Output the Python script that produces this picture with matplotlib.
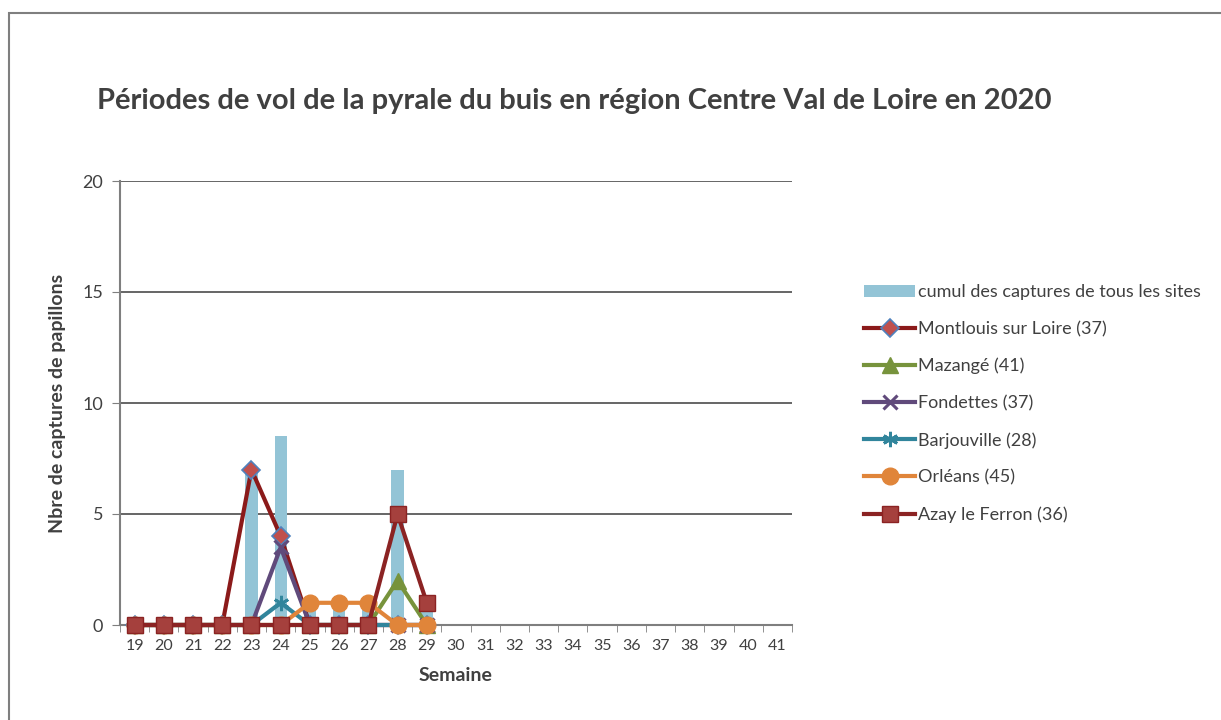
import matplotlib
matplotlib.use("Agg")
import matplotlib.pyplot as plt
import numpy as np
from matplotlib.patches import Rectangle

plt.rcParams['font.family'] = ['Lato', 'DejaVu Sans']

weeks = [str(w) for w in range(19, 42)]
data_weeks = list(range(19, 30))
cumul = [0, 0, 0, 0, 7, 8.5, 1, 1, 1, 7, 1]
montlouis = [0, 0, 0, 0, 7, 4, 0, 0, 0, 0, 0]
mazange = [0, 0, 0, 0, 0, 0, 0, 0, 0, 2, 0]
fondettes = [0, 0, 0, 0, 0, 3.5, 0, 0, 0, 0, 0]
barjouville = [0, 0, 0, 0, 0, 1, 0, 0, 0, 0, 0]
orleans = [0, 0, 0, 0, 0, 0, 1, 1, 1, 0, 0]
azay = [0, 0, 0, 0, 0, 0, 0, 0, 0, 5, 1]

fig = plt.figure(figsize=(12.21, 7.2), dpi=100)
fig.patches.append(Rectangle((9/1221, -0.1), 1.2, 1 - 13/720 + 0.1, transform=fig.transFigure,
                             fill=False, edgecolor='#7f7f7f', linewidth=1.5))
ax = fig.add_axes([120/1221, 1 - 625/720, (792-120)/1221, (625-181)/720])

x = np.arange(len(data_weeks))
ax.bar(x, cumul, width=0.42, color='#93C4D6', label='cumul des captures de tous les sites', zorder=2)

lw = 3.0
kw = dict(lw=lw, zorder=3, clip_on=False)
ax.plot(x, montlouis, color='#8B1A1A', marker='D', ms=9, mfc='#C0504D', mec='#4F81BD', mew=1.2,
        label='Montlouis sur Loire (37)', **kw)
ax.plot(x, mazange, color='#77933C', marker='^', ms=11, mfc='#77933C', mec='#77933C',
        label='Mazangé (41)', **kw)
ax.plot(x, fondettes, color='#604A7B', marker='x', ms=10, mew=2.2, mec='#604A7B',
        label='Fondettes (37)', **kw)
ax.plot(x, barjouville, color='#31859C', marker=(6, 2, 0), ms=11, mew=2, mec='#31859C',
        label='Barjouville (28)', **kw)
ax.plot(x, orleans, color='#E0853A', marker='o', ms=12, mfc='#E0853A', mec='#E0853A',
        label='Orléans (45)', **kw)
ax.plot(x, azay, color='#8B2323', marker='s', ms=12, mfc='#A5403D', mec='#8B2323', mew=1,
        label='Azay le Ferron (36)', **kw)

ax.set_xlim(-0.5, len(weeks) - 0.5)
ax.set_ylim(0, 20)
ax.set_yticks([0, 5, 10, 15, 20])
ax.set_xticks(np.arange(len(weeks)))
ax.set_xticklabels(weeks)
ax.set_xticks(np.arange(len(weeks) + 1) - 0.5, minor=True)
ax.tick_params(axis='x', which='major', length=0, labelsize=11.5, colors='#404040', pad=10)
ax.tick_params(axis='x', which='minor', length=5, direction='out', color='#7f7f7f')
ax.tick_params(axis='y', length=6, direction='out', labelsize=13, colors='#7f7f7f', labelcolor='#404040', pad=6)
ax.grid(axis='y', color='#595959', lw=1.3, zorder=0)
ax.set_axisbelow(True)
for s in ['top', 'right']:
    ax.spines[s].set_visible(False)
for s in ['left', 'bottom']:
    ax.spines[s].set_color('#7f7f7f')
    ax.spines[s].set_linewidth(1.5)

ax.set_ylabel('Nbre de captures de papillons', fontsize=14, fontweight='bold', color='#404040', labelpad=12)
ax.set_xlabel('Semaine', fontsize=14, fontweight='bold', color='#404040', labelpad=10)

fig.text(97/1221, 1 - 101/720, 'Périodes de vol de la pyrale du buis en région Centre Val de Loire en 2020',
         fontsize=21, fontweight='bold', color='#404040', va='center', ha='left')

handles, labels = ax.get_legend_handles_labels()
order = [6, 0, 1, 2, 3, 4, 5]
leg = fig.legend([handles[i] for i in order], [labels[i] for i in order],
                 loc='upper left', bbox_to_anchor=(848/1221, 1 - 268/720), frameon=False,
                 fontsize=13, labelspacing=1.15, handlelength=2.8, handletextpad=0.2,
                 labelcolor='#404040')

fig.savefig('out.png', dpi=100)
